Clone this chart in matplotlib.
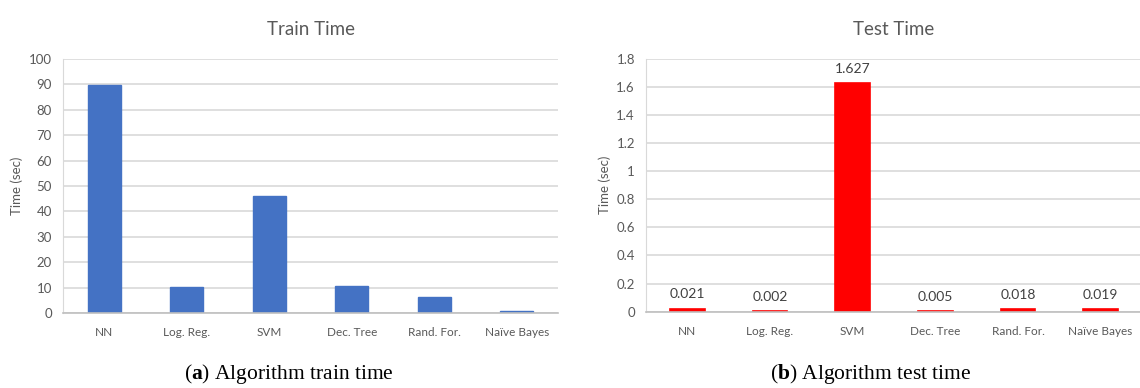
import matplotlib
matplotlib.use("Agg")
import matplotlib.pyplot as plt

algorithms = ["NN", "Log. Reg.", "SVM", "Dec. Tree", "Rand. For.", "Naïve Bayes"]
train_time = [89.5, 10.3, 46.0, 10.7, 6.4, 1.0]
test_time = [0.021, 0.002, 1.627, 0.005, 0.018, 0.019]
test_labels = ["0.021", "0.002", "1.627", "0.005", "0.018", "0.019"]

plt.rcParams["font.family"] = ["Lato", "DejaVu Sans"]
plt.rcParams["mathtext.fontset"] = "custom"
plt.rcParams["mathtext.rm"] = "Liberation Serif"
plt.rcParams["mathtext.bf"] = "Liberation Serif:bold"

text_gray = "#595959"
grid_gray = "#d9d9d9"

fig = plt.figure(figsize=(11.4, 3.88), dpi=100)
ax1 = fig.add_axes([0.0553, 0.1925, 0.4342, 0.6562])
ax2 = fig.add_axes([0.5667, 0.1966, 0.4350, 0.6521])


def style(ax, ymax, step):
    ax.set_ylim(0, ymax)
    ax.set_xlim(-0.5, 5.5)
    ticks = [round(i * step, 1) for i in range(int(round(ymax / step)) + 1)]
    ax.set_yticks(ticks)
    ax.set_yticklabels([f"{t:g}" for t in ticks])
    ax.yaxis.grid(True, color=grid_gray, linewidth=1.2)
    ax.set_axisbelow(True)
    for s in ["top", "right"]:
        ax.spines[s].set_visible(False)
    ax.spines["left"].set_color(grid_gray)
    ax.spines["bottom"].set_color("#bfbfbf")
    ax.spines["bottom"].set_linewidth(1.2)
    ax.tick_params(length=0, colors=text_gray)
    ax.tick_params(axis="y", labelsize=9.5, pad=8)
    ax.tick_params(axis="x", labelsize=8.5, pad=10)
    ax.set_xticks(range(len(algorithms)))
    ax.set_xticklabels(algorithms)
    ax.set_ylabel("Time (sec)", fontsize=9.5, color=text_gray, labelpad=4)


ax1.bar(range(len(algorithms)), train_time, width=0.4, color="#4472c4",
        edgecolor="#4472c4", linewidth=1)
style(ax1, 100, 10)
ax1.set_title("Train Time", fontsize=13.5, color=text_gray, pad=17)

bars = ax2.bar(range(len(algorithms)), test_time, width=0.42, color="#ff0000",
               edgecolor="#ff0000", linewidth=1.2)
style(ax2, 1.8, 0.2)
ax2.set_title("Test Time", fontsize=13.5, color=text_gray, pad=17)
ax2.bar_label(bars, labels=test_labels, padding=6, fontsize=10, color="#404040")

fig.text(0.253, 0.022, r"($\mathbf{a}$) Algorithm train time", ha="center",
         fontsize=15.5, family="Liberation Serif")
fig.text(0.764, 0.022, r"($\mathbf{b}$) Algorithm test time", ha="center",
         fontsize=15.5, family="Liberation Serif")

fig.savefig("out.png", dpi=100)
